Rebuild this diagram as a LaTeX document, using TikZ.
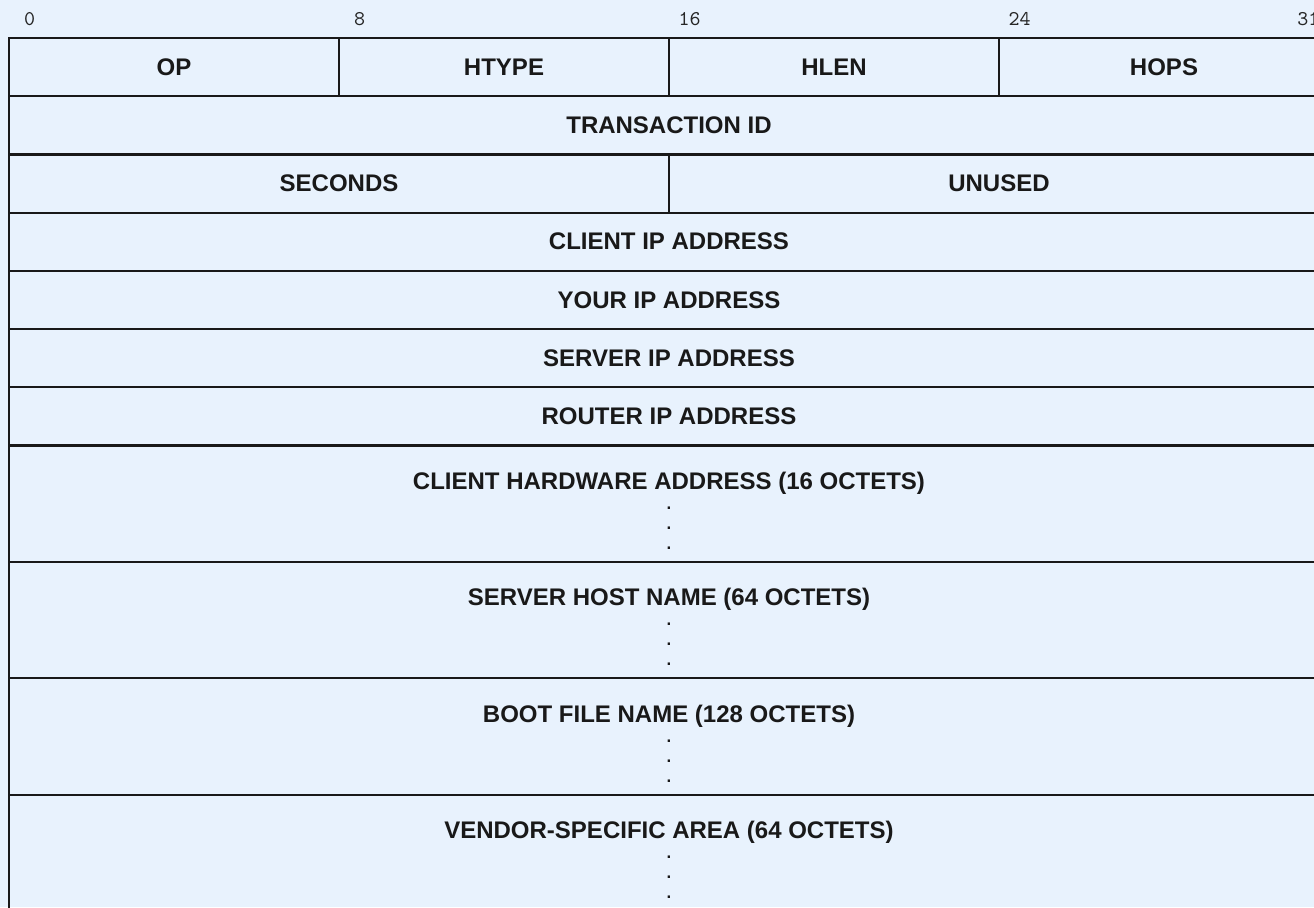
\documentclass[tikz,border=0pt]{standalone}
\usepackage{fontspec}
\setmainfont{Liberation Sans}
\usetikzlibrary{positioning}
\definecolor{pktbg}{RGB}{232,242,253}
\definecolor{pktline}{RGB}{25,25,25}
\newcommand{\vdotsrow}{\\\mdseries.\\\mdseries.\\\mdseries.}
\tikzset{
  field/.style={draw=pktline, line width=1.1pt, inner sep=0pt, outer sep=0pt,
    anchor=north west, minimum height=29.1pt, text=black!90,
    font=\bfseries\fontsize{12}{10}\selectfont},
  bigfield/.style={field, minimum width=660pt, minimum height=58.2pt},
  fieldtext/.style={inner sep=0pt, anchor=north, align=center, text=black!90,
    font=\bfseries\fontsize{12}{10}\selectfont},
  bitnum/.style={inner sep=0pt, text=black!85, font=\ttfamily\fontsize{10.5}{12}\selectfont}
}

\begin{document}
\begin{tikzpicture}[x=0.5pt, y=-0.5pt]
  \useasboundingbox (0,0) rectangle (1314,907);
  \clip (0,0) rectangle (1314,907);
  \fill[pktbg] (0,0) rectangle (1314,907);

  % bit positions
  \foreach \b in {0,8,16,24,31}
    \node[bitnum] (bit\b) at ({29.6+41.25*\b},19) {\b};

  % 32-bit words
  \node[field, minimum width=165pt] (op) at (9,38) {OP};
  \node[field, minimum width=165pt] (htype) at (op.north east) {HTYPE};
  \node[field, minimum width=165pt] (hlen) at (htype.north east) {HLEN};
  \node[field, minimum width=165pt] (hops) at (hlen.north east) {HOPS};
  \node[field, minimum width=660pt] (xid) at (op.south west) {TRANSACTION ID};
  \node[field, minimum width=330pt] (secs) at (xid.south west) {SECONDS};
  \node[field, minimum width=330pt] (unused) at (secs.north east) {UNUSED};
  \node[field, minimum width=660pt] (ciaddr) at (secs.south west) {CLIENT IP ADDRESS};
  \node[field, minimum width=660pt] (yiaddr) at (ciaddr.south west) {YOUR IP ADDRESS};
  \node[field, minimum width=660pt] (siaddr) at (yiaddr.south west) {SERVER IP ADDRESS};
  \node[field, minimum width=660pt] (giaddr) at (siaddr.south west) {ROUTER IP ADDRESS};

  % variable areas
  \node[bigfield] (chaddr) at (giaddr.south west) {};
  \node[bigfield] (sname) at (chaddr.south west) {};
  \node[bigfield] (file) at (sname.south west) {};
  \node[bigfield] (vend) at (file.south west) {};
  \node[fieldtext] (chaddr-txt) at ([yshift=-13pt]chaddr.north) {CLIENT HARDWARE ADDRESS (16 OCTETS)\vdotsrow};
  \node[fieldtext] (sname-txt) at ([yshift=-13pt]sname.north) {SERVER HOST NAME (64 OCTETS)\vdotsrow};
  \node[fieldtext] (file-txt) at ([yshift=-13pt]file.north) {BOOT FILE NAME (128 OCTETS)\vdotsrow};
  \node[fieldtext] (vend-txt) at ([yshift=-13pt]vend.north) {VENDOR-SPECIFIC AREA (64 OCTETS)\vdotsrow};
\end{tikzpicture}
\end{document}
